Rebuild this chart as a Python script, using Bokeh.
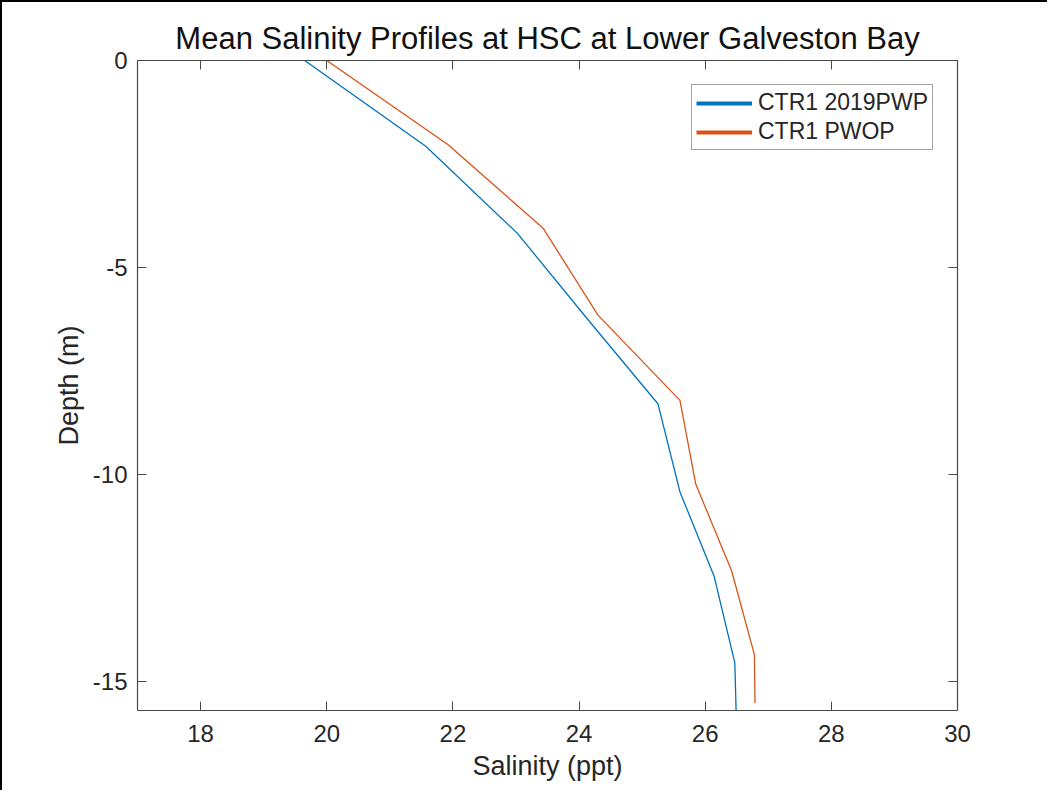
from bokeh.plotting import figure
from bokeh.models import (Range1d, LinearAxis, Legend, LegendItem, ColumnDataSource,
                          FixedTicker, CustomLabelingPolicy)
from bokeh.embed import file_html
from bokeh.resources import INLINE

# Data
sal_2019pwp = [19.65, 21.57, 23.02, 24.12, 25.25, 25.60, 26.14, 26.47, 26.49]
dep_2019pwp = [0.0, -2.07, -4.17, -6.22, -8.29, -10.42, -12.45, -14.55, -15.70]
sal_pwop = [20.00, 21.92, 23.43, 24.30, 25.60, 25.85, 26.42, 26.78, 26.79]
dep_pwop = [0.0, -2.03, -4.05, -6.15, -8.21, -10.23, -12.33, -14.35, -15.52]
x_ticks = [18, 20, 22, 24, 26, 28, 30]
y_ticks = [-15, -10, -5, 0]
series_names = ["CTR1 2019PWP", "CTR1 PWOP"]
colors = ["#0072BD", "#D95319"]

FONT = "Liberation Sans"
TXT = "#262626"
AX = "#4a4a4a"

W, H = 1047, 790
p = figure(width=W, height=H, output_backend="svg", toolbar_location=None,
           x_range=Range1d(17, 30), y_range=Range1d(-15.7, 0),
           min_border_left=135, min_border_right=W - 2 - 953,
           min_border_top=58, min_border_bottom=H - 2 - 706,
           title="Mean Salinity Profiles at HSC at Lower Galveston Bay")
p.styles = {"border-left": "2px solid black", "border-top": "2px solid black",
            "box-sizing": "border-box"}
p.title.align = "center"
p.title.text_font = FONT
p.title.text_font_size = "31px"
p.title.text_font_style = "normal"
p.title.text_color = "#111111"
p.title.offset = 0
p.xgrid.visible = False
p.ygrid.visible = False
p.outline_line_color = None
p.background_fill_color = "white"
p.border_fill_color = "white"

def style_axis(ax, label_size="24px"):
    ax.axis_line_color = AX
    ax.axis_line_width = 1.2
    ax.major_tick_line_color = AX
    ax.major_tick_in = 9
    ax.major_tick_out = 0
    ax.minor_tick_line_color = None
    ax.major_label_text_font = FONT
    ax.major_label_text_color = TXT
    ax.major_label_text_font_size = label_size
    ax.axis_label_text_font = FONT
    ax.axis_label_text_font_style = "normal"
    ax.axis_label_text_color = TXT
    ax.axis_label_text_font_size = "27px"

p.xaxis.ticker = FixedTicker(ticks=x_ticks)
p.yaxis.ticker = FixedTicker(ticks=y_ticks)
p.yaxis.major_label_overrides = {t: str(t) for t in y_ticks}
style_axis(p.xaxis[0])
style_axis(p.yaxis[0])
p.xaxis.axis_label = "Salinity (ppt)"
p.yaxis.axis_label = "Depth (m)"
p.xaxis.major_label_standoff = 14
p.xaxis.axis_label_standoff = 6
p.yaxis.major_label_standoff = 10
p.yaxis.axis_label_standoff = 6

# box axes (top / right) with inward ticks and no labels
no_labels = CustomLabelingPolicy(code="""
for (const i of [...indices.ones()]) { indices.unset(i) }
return indices
""")
top = LinearAxis(ticker=FixedTicker(ticks=x_ticks), major_label_policy=no_labels)
style_axis(top, "0px")
top.major_label_standoff = 0
right = LinearAxis(ticker=FixedTicker(ticks=y_ticks), major_label_policy=no_labels)
style_axis(right, "0px")
right.major_label_standoff = 0
p.add_layout(top, "above")
p.add_layout(right, "right")

r1 = p.line(sal_2019pwp, dep_2019pwp, line_color=colors[0], line_width=1.3)
r2 = p.line(sal_pwop, dep_pwop, line_color=colors[1], line_width=1.3)

# legend-only renderers (thicker sample lines, nothing drawn in the plot)
nan = float("nan")
l1 = p.line(x="x", y="y", source=ColumnDataSource(dict(x=[nan], y=[nan])), line_color=colors[0], line_width=4)
l2 = p.line(x="x", y="y", source=ColumnDataSource(dict(x=[nan], y=[nan])), line_color=colors[1], line_width=4)

legend = Legend(items=[LegendItem(label=series_names[0], renderers=[l1]),
                       LegendItem(label=series_names[1], renderers=[l2])],
                location="top_right")
legend.margin = 24
legend.padding = 4
legend.spacing = 2
legend.glyph_width = 56
legend.glyph_height = 22
legend.label_height = 22
legend.label_standoff = 6
legend.label_text_font = FONT
legend.label_text_font_size = "23px"
legend.label_text_color = TXT
legend.border_line_color = AX
legend.border_line_width = 1.2
legend.background_fill_color = "white"
legend.background_fill_alpha = 1
p.add_layout(legend, "center")

open("out.html", "w").write(file_html(p, INLINE))
